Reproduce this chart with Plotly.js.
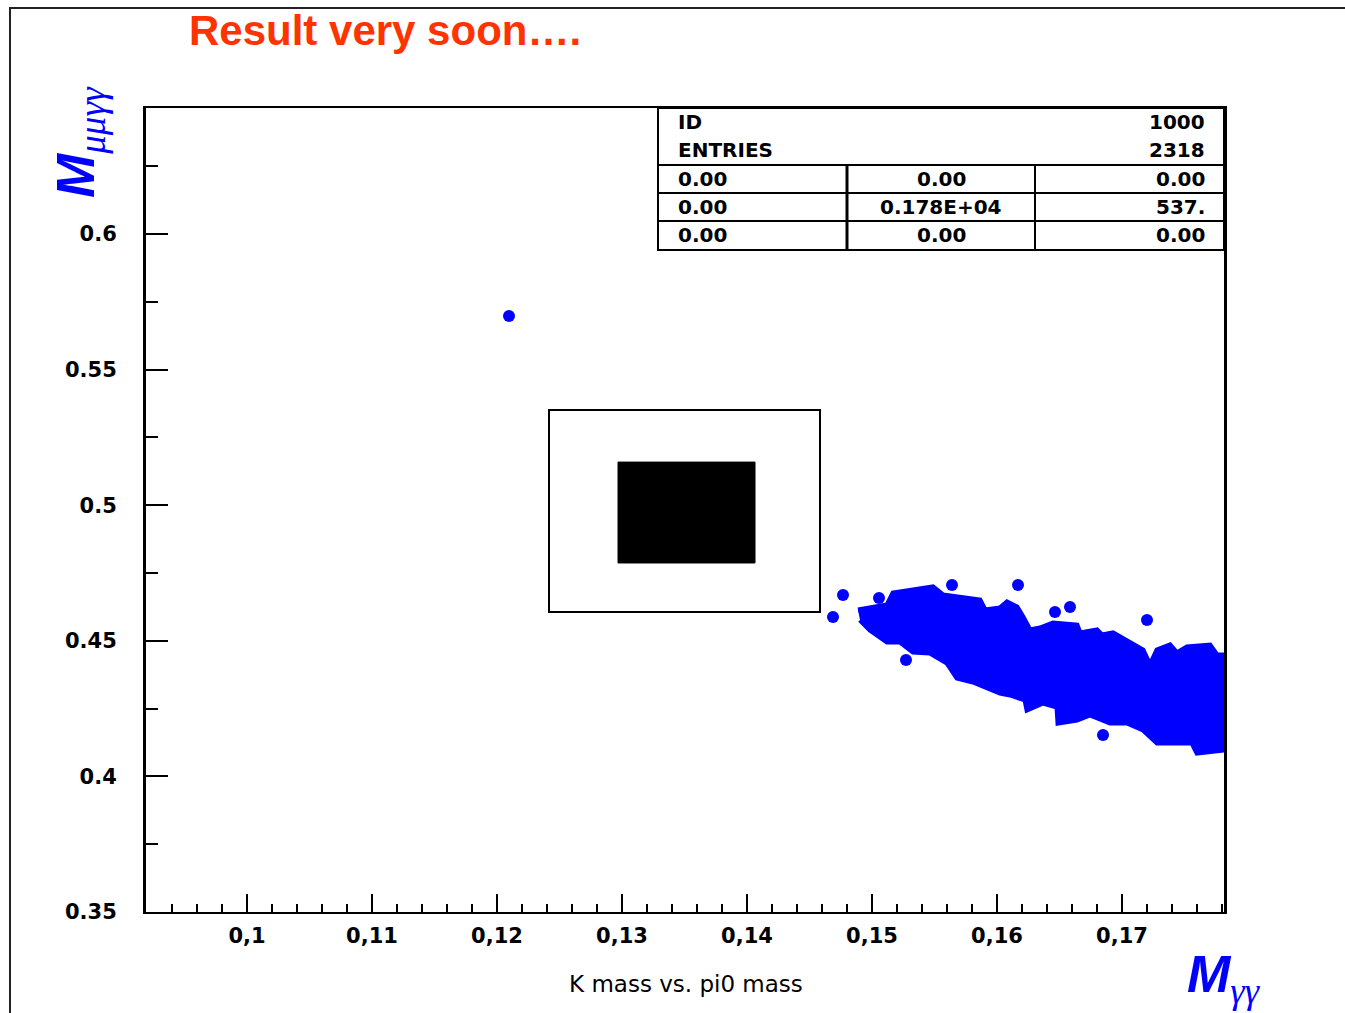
<!DOCTYPE html>
<html>
<head>
<meta charset="utf-8">
<script src="https://cdn.plot.ly/plotly-3.0.1.min.js"></script>
<style>html,body{margin:0;padding:0;background:#fff;}#chart{width:1345px;height:1013px;}</style>
</head>
<body>
<div id="chart"></div>
<script>
// ---- Data ----
// Outline of the dense cluster of entries (M_gg, M_mumugg)
const blobX = [0.14888,0.1512,0.15168,0.15408,0.15488,0.15568,0.15864,0.15904,0.16024,0.1608,0.1616,0.16208,0.16264,0.16344,0.16448,0.1664,0.16664,0.168,0.1684,0.16928,0.17024,0.17168,0.17224,0.1728,0.17384,0.1744,0.1752,0.17704,0.1776,0.17816,
  0.17816,0.176,0.1756,0.1728,0.17168,0.1704,0.16904,0.16744,0.1664,0.16488,0.1648,0.16368,0.1624,0.16224,0.16104,0.16024,0.15808,0.1568,0.156,0.15464,0.15328,0.15224,0.1512,0.14984,0.14904];
const blobY = [0.46136,0.4632,0.46763,0.46947,0.46984,0.46689,0.46504,0.46136,0.4621,0.46431,0.46246,0.45878,0.45398,0.45472,0.45656,0.45583,0.45288,0.45398,0.45214,0.45288,0.45029,0.44661,0.44108,0.44661,0.44845,0.4455,0.44771,0.44845,0.44476,0.44476,
  0.40973,0.40863,0.41231,0.41231,0.41711,0.41969,0.41969,0.42264,0.4208,0.41969,0.42559,0.42707,0.42448,0.42817,0.43002,0.43075,0.43481,0.43628,0.44181,0.4455,0.44587,0.44956,0.44956,0.45398,0.45767];
// Isolated entries
const dotX = [0.14768,0.14688,0.15056,0.1564,0.16168,0.15272,0.16848,0.172,0.16464,0.16584,0.12096];
const dotY = [0.46689,0.45878,0.46578,0.47058,0.47058,0.44292,0.41527,0.45767,0.46062,0.46246,0.56976];
// Signal region boxes [x0, x1, y0, y1]
const outerBox = [0.12416, 0.14584, 0.4606, 0.5351];
const innerBox = [0.12968, 0.14064, 0.4787, 0.5159];
// Tick labels
const xTickVals = [0.1,0.11,0.12,0.13,0.14,0.15,0.16,0.17];
const xTickText = ['0,1','0,11','0,12','0,13','0,14','0,15','0,16','0,17'];
const yTickVals = [0.35,0.4,0.45,0.5,0.55,0.6];
const yTickText = ['0.35','0.4','0.45','0.5','0.55','0.6'];
// Statistics box
const statHeadLabels = ['ID','ENTRIES'];
const statHeadValues = ['1000','2318'];
const statGrid = [['0.00','0.00','0.00'],['0.00','0.178E+04','537.'],['0.00','0.00','0.00']];

// ---- Layout helpers (pixel -> paper) ----
const L=146, R=1224, T=108, B=912;
const px = p => (p-L)/(R-L);
const py = p => (B-p)/(B-T);

const statFont = {family:'DejaVu Sans', size:20, color:'#000'};
const annotations = [];
const rowY = [122,150,179,207,235];
statHeadLabels.forEach((t,i)=>{
  annotations.push({xref:'paper',yref:'paper',x:px(676),y:py(rowY[i]),xanchor:'left',yanchor:'middle',text:'<b>'+t+'</b>',showarrow:false,font:statFont});
  annotations.push({xref:'paper',yref:'paper',x:px(1207),y:py(rowY[i]),xanchor:'right',yanchor:'middle',text:'<b>'+statHeadValues[i]+'</b>',showarrow:false,font:statFont});
});
statGrid.forEach((row,i)=>{
  const y = py(rowY[i+2]);
  annotations.push({xref:'paper',yref:'paper',x:px(676),y:y,xanchor:'left',yanchor:'middle',text:'<b>'+row[0]+'</b>',showarrow:false,font:statFont});
  annotations.push({xref:'paper',yref:'paper',x:px(941),y:y,xanchor:'center',yanchor:'middle',text:'<b>'+row[1]+'</b>',showarrow:false,font:statFont});
  annotations.push({xref:'paper',yref:'paper',x:px(1207),y:y,xanchor:'right',yanchor:'middle',text:'<b>'+row[2]+'</b>',showarrow:false,font:statFont});
});
// axis titles
annotations.push({xref:'paper',yref:'paper',x:px(80),y:py(142),xanchor:'center',yanchor:'middle',textangle:-90,showarrow:false,
  text:'<b><i>M</i></b><sub><i><span style="font-family:Liberation Serif">μμγγ</span></i></sub>',
  font:{family:'Liberation Sans', size:53, color:'#0000ff'}});
annotations.push({xref:'paper',yref:'paper',x:px(1224),y:py(978),xanchor:'center',yanchor:'middle',showarrow:false,
  text:'<b><i>M</i></b><sub><i><span style="font-family:Liberation Serif">γγ</span></i></sub>',
  font:{family:'Liberation Sans', size:52, color:'#0000ff'}});
annotations.push({xref:'paper',yref:'paper',x:px(686),y:py(984),xanchor:'center',yanchor:'middle',showarrow:false,
  text:'K mass vs. pi0 mass', font:{family:'DejaVu Sans', size:23, color:'#000'}});

const shapes = [
  // outer page frame
  {type:'rect',xref:'paper',yref:'paper',x0:px(10),x1:px(1400),y0:py(1030),y1:py(8),line:{color:'#222',width:2},layer:'below'},
  // signal boxes
  {type:'rect',xref:'x',yref:'y',x0:outerBox[0],x1:outerBox[1],y0:outerBox[2],y1:outerBox[3],line:{color:'#000',width:2},fillcolor:'rgba(0,0,0,0)'},
  {type:'rect',xref:'x',yref:'y',x0:innerBox[0],x1:innerBox[1],y0:innerBox[2],y1:innerBox[3],line:{color:'#000',width:1},fillcolor:'#000'},
  // stat box
  {type:'rect',xref:'paper',yref:'paper',x0:px(658),x1:px(1224),y0:py(250),y1:py(108),line:{color:'#000',width:2},fillcolor:'#fff'},
  {type:'line',xref:'paper',yref:'paper',x0:px(658),x1:px(1224),y0:py(165),y1:py(165),line:{color:'#000',width:2}},
  {type:'line',xref:'paper',yref:'paper',x0:px(658),x1:px(1224),y0:py(193),y1:py(193),line:{color:'#000',width:2}},
  {type:'line',xref:'paper',yref:'paper',x0:px(658),x1:px(1224),y0:py(221),y1:py(221),line:{color:'#000',width:2}},
  {type:'line',xref:'paper',yref:'paper',x0:px(847),x1:px(847),y0:py(165),y1:py(250),line:{color:'#000',width:3}},
  {type:'line',xref:'paper',yref:'paper',x0:px(1035),x1:px(1035),y0:py(165),y1:py(250),line:{color:'#000',width:2}}
];

const data = [
  {type:'scatter',mode:'lines',x:blobX,y:blobY,fill:'toself',fillcolor:'#0000ff',line:{color:'#0000ff',width:5},hoverinfo:'skip',showlegend:false},
  {type:'scatter',mode:'markers',x:dotX,y:dotY,marker:{color:'#0000ff',size:12,symbol:'circle'},showlegend:false}
];

const tickFont = {family:'DejaVu Sans', size:21, color:'#000', weight:'bold'};
const layout = {
  width:1345, height:1013,
  margin:{l:L, r:1345-R, t:T, b:1013-B, pad:0},
  paper_bgcolor:'#fff', plot_bgcolor:'#fff',
  showlegend:false,
  title:{text:'<b>Result very soon….</b>', font:{family:'Liberation Sans', size:42, color:'#ff3300'},
    xref:'container', yref:'container', x:189/1345, xanchor:'left', y:1-30/1013, yanchor:'middle'},
  xaxis:{range:[0.09192,0.17816], tickvals:xTickVals, ticktext:xTickText, ticks:'inside', ticklen:18, tickwidth:2, tickcolor:'#000',
    minor:{dtick:0.002, tick0:0.1, ticks:'inside', ticklen:8, tickwidth:2, tickcolor:'#000'},
    showline:true, linecolor:'#000', linewidth:2, mirror:true, showgrid:false, zeroline:false,
    tickfont:tickFont, ticklabelstandoff:4},
  yaxis:{range:[0.35,0.64646], tickvals:yTickVals, ticktext:yTickText, ticks:'inside', ticklen:22, tickwidth:2, tickcolor:'#000',
    minor:{dtick:0.025, tick0:0.35, ticks:'inside', ticklen:12, tickwidth:2, tickcolor:'#000'},
    showline:true, linecolor:'#000', linewidth:3, mirror:true, showgrid:false, zeroline:false,
    tickfont:tickFont, ticklabelstandoff:22},
  shapes:shapes,
  annotations:annotations
};
Plotly.newPlot('chart', data, layout, {staticPlot:true, displayModeBar:false});
</script>
</body>
</html>
